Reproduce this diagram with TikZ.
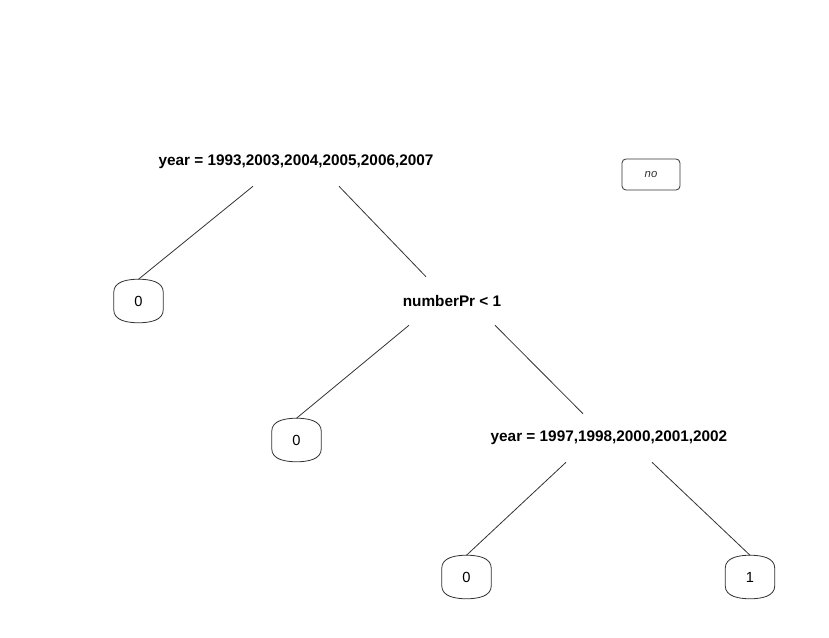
\documentclass[tikz,border=0pt]{standalone}
\usepackage{fontspec}
\setmainfont{Liberation Sans}
\usetikzlibrary{calc}

\tikzset{
    split/.style={font=\fontsize{11.5}{13}\selectfont\bfseries, minimum height=36pt, inner sep=0pt},
    leaf/.style={font=\fontsize{11}{13}\selectfont, minimum width=36.75pt, minimum height=32.25pt, inner sep=0pt},
    edge/.style={line width=0.6pt, black!80}
}

\begin{document}
\begin{tikzpicture}[x=0.75pt,y=0.75pt]
            \useasboundingbox (0,0) rectangle (829,-638);
            \node[split] (root) at (296,-162) {year = 1993,2003,2004,2005,2006,2007};
            \node[split] (npr) at (452,-301) {numberPr < 1};
            \node[split] (yr) at (609,-438) {year = 1997,1998,2000,2001,2002};
            \node[leaf] (l1) at (138.5,-301) {0};
            \node[leaf] (l2) at (296.5,-440) {0};
            \node[leaf] (l3) at (466.5,-577) {0};
            \node[leaf] (l4) at (750,-577) {1};
            \node[draw, edge, rounded corners=3pt, minimum width=43.5pt, minimum height=23.25pt,
                  font=\fontsize{8.5}{10}\selectfont\itshape] (key) at (651,-174.5) {no};
            \draw[edge] ([xshift=-32.25pt]root.south) -- (l1.north);
            \draw[edge] ([xshift=32.25pt]root.south) -- ([xshift=-19.5pt]npr.north);
            \draw[edge] ([xshift=-32.25pt]npr.south) -- (l2.north);
            \draw[edge] ([xshift=32.25pt]npr.south) -- ([xshift=-19.5pt]yr.north);
            \draw[edge] ([xshift=-32.25pt]yr.south) -- (l3.north);
            \draw[edge] ([xshift=32.25pt]yr.south) -- (l4.north);
            \foreach \n in {l1,l2,l3,l4}
                \draw[edge] ($(\n.north west)!0.3!(\n.south west)$) to[out=90,in=180] (\n.north)
                    to[out=0,in=90] ($(\n.north east)!0.3!(\n.south east)$)
                    -- ($(\n.north east)!0.7!(\n.south east)$) to[out=-90,in=0] (\n.south)
                    to[out=180,in=-90] ($(\n.north west)!0.7!(\n.south west)$) -- cycle;
        \end{tikzpicture}
\end{document}
